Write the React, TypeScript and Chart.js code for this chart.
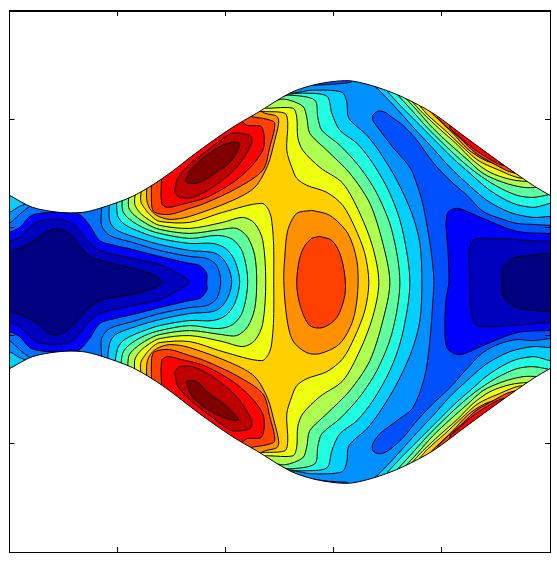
import React, { useEffect, useRef } from "react";
import { Chart, registerables } from "chart.js";

Chart.register(...registerables);

const xTicks = [10, 118, 226, 334, 442, 550];
const yTicks = [11, 119, 227, 335, 443, 551];

const bandColors = [
  "#000080", "#0000bf", "#0000ff", "#0050ff", "#0090ff", "#00cfff", "#20ffdf", "#60ff9f",
  "#afff50", "#efff10", "#ffcf00", "#ff9000", "#ff4000", "#ff0000", "#bf0000", "#800000",
  "#0070ff",
];

const field = [0,0, 600,0, 600,600, 0,600, 0,0];

const low3Left = [0,226, 10,223, 20,214, 32,205, 60,190, 102,190, 102,208, 102,225, 110,235, 133,242, 160,250, 190,256, 207,258, 217,265, 221,281, 217,298, 207,305, 190,307, 160,313, 133,321, 110,328, 102,338, 102,355, 102,373, 60,373, 32,358, 20,349, 10,340, 0,337, 0,226];
const low3Right = [373,115, 378,111, 385,112, 392,117, 403,125, 417,140, 433,162, 450,180, 467,195, 483,211, 500,218, 517,223, 533,224, 550,225, 565,225, 565,338, 550,338, 533,340, 517,339, 500,343, 483,352, 467,368, 450,387, 433,403, 417,420, 403,437, 388,450, 380,453, 373,450, 373,443, 380,433, 397,420, 413,407, 425,375, 430,340, 433,300, 434,280, 432,257, 428,230, 422,200, 413,173, 407,163, 393,147, 380,130, 373,120, 373,115];
const low3CapTop = [313,85, 327,84.5, 340,83.5, 351,82, 354,78, 340,70, 320,75, 313,85];
const low3CapBottom = [313,478, 325,480, 338,481, 348,482, 349,490, 330,495, 313,478];
const low2Left = [0,236, 10,232, 20,227, 32,215, 53,212, 78,213, 90,225, 100,240, 115,245, 133,249, 160,256, 190,263, 200,265, 207,273, 207,282, 207,290, 200,298, 190,300, 160,307, 133,314, 115,318, 100,323, 90,338, 78,350, 53,351, 32,348, 20,336, 10,331, 0,328, 0,236];
const low2Right = [446,225, 448,212, 458,208, 483,218, 517,231, 550,233, 565,233, 565,330, 550,330, 517,332, 483,345, 467,352, 457,354, 447,347, 445,330, 446,300, 449,281, 448,250, 446,225];
const low1Left = [0,244, 10,241, 20,237, 37,222, 57,219, 73,223, 88,240, 100,250, 133,258, 160,264, 185,277, 189,282, 185,286, 160,299, 133,305, 100,313, 88,323, 73,340, 57,344, 37,341, 20,326, 10,322, 0,320, 0,244];
const low1Right = [469,253, 473,240, 497,238, 527,240, 550,241, 565,241, 565,322, 550,322, 510,325, 482,326, 475,323, 471,310, 470,280, 469,253];
const low0Left = [0,253, 10,252, 30,243, 50,230, 62,229, 72,235, 82,248, 92,257, 113,263, 140,270, 155,275, 162,282, 153,288, 127,295, 107,298, 92,305, 80,317, 70,328, 58,334, 50,333, 38,323, 23,315, 10,311, 0,310, 0,253];
const low0Right = [503,267, 513,258, 530,255, 550,253, 565,253, 565,311, 550,311, 517,307, 504,297, 502,280, 503,267];

const cornerTop = [0,214, 10,212, 20,206, 28,202, 10,185, 0,185, 0,214];
const cornerBottom = [0,349, 10,351, 20,357, 28,361, 10,378, 0,378, 0,349];

const high5Center = [110,198, 160,140, 220,100, 288,72, 288,92, 313,90, 342,92, 347,102, 349,118, 367,135, 380,152, 397,180, 412,213, 420,243, 422,282, 420,320, 412,350, 397,383, 380,411, 367,428, 349,445, 347,461, 342,471, 313,473, 288,471, 288,491, 220,463, 160,423, 110,365, 110,343, 116,334, 133,327, 160,319, 190,313, 213,311, 222,306, 229,295, 232,281, 229,268, 222,257, 213,252, 190,250, 160,244, 133,236, 116,229, 110,220, 110,198];
const high6Center = [117,195, 160,140, 220,100, 282,78, 282,93, 303,93, 327,96, 332,113, 340,130, 357,143, 373,163, 390,193, 402,227, 410,282, 402,336, 390,370, 373,400, 357,420, 340,433, 332,450, 327,467, 303,470, 282,470, 282,485, 220,463, 160,423, 117,368, 118,348, 125,339, 142,331, 160,325, 190,320, 213,320, 226,315, 235,303, 240,281, 235,260, 226,248, 213,243, 190,243, 160,238, 142,232, 125,224, 118,215, 117,195];
const high7Center = [123,192, 160,140, 220,100, 275,85, 275,97, 290,95, 315,100, 318,117, 322,130, 340,145, 360,167, 377,193, 392,230, 400,282, 392,333, 377,370, 360,396, 340,418, 322,433, 318,446, 315,463, 290,468, 275,466, 275,478, 220,463, 160,423, 123,371, 123,353, 130,344, 145,335, 160,330, 190,325, 218,328, 233,324, 243,311, 248,281, 243,252, 233,239, 218,235, 190,238, 160,233, 145,228, 130,219, 123,210, 123,192];
const high8Center = [130,188, 160,140, 220,100, 268,90, 268,101, 285,99, 303,106, 307,117, 310,133, 327,150, 350,173, 370,203, 383,243, 390,282, 383,320, 370,360, 350,390, 327,413, 310,430, 307,446, 303,457, 285,464, 268,462, 268,473, 220,463, 160,423, 130,375, 129,356, 135,348, 148,339, 160,334, 190,330, 222,334, 237,335, 248,326, 255,308, 257,281, 255,255, 248,237, 237,228, 222,229, 190,233, 160,229, 148,224, 135,215, 129,207, 130,188];
const high9Center = [137,185, 160,140, 220,100, 260,95, 260,107, 293,108, 297,117, 298,137, 303,150, 320,167, 343,183, 360,213, 373,247, 379,282, 373,316, 360,350, 343,380, 320,396, 303,413, 298,426, 297,446, 293,455, 260,456, 260,468, 220,463, 160,423, 137,378, 135,360, 140,351, 150,343, 160,338, 190,335, 223,341, 243,346, 255,340, 263,323, 266,281, 263,240, 255,223, 243,217, 223,222, 190,228, 160,225, 150,220, 140,212, 135,203, 137,185];
const high10Center = [143,182, 160,140, 220,100, 255,100, 255,110, 285,113, 288,123, 287,150, 292,167, 297,178, 307,185, 327,192, 343,205, 355,227, 365,253, 369,282, 365,310, 355,336, 343,358, 327,371, 307,378, 297,385, 292,396, 287,413, 288,440, 285,450, 255,453, 255,463, 220,463, 160,423, 143,381, 141,363, 145,355, 152,347, 160,342, 190,341, 223,351, 262,360, 270,351, 273,333, 274,313, 274,281, 274,250, 273,230, 270,212, 262,203, 223,212, 190,222, 160,221, 152,216, 145,208, 141,200, 143,182];

const high11Top = [148,175, 147,198, 150,208, 157,215, 170,219, 190,216, 233,200, 255,187, 268,165, 275,140, 279,122, 277,116, 265,113, 255,108, 220,100, 170,140, 148,175];
const high11Bottom = [148,388, 147,365, 150,355, 157,348, 170,344, 190,347, 233,363, 255,376, 268,398, 275,423, 279,441, 277,447, 265,450, 255,455, 220,463, 170,423, 148,388];
const high11Middle = [312,210, 330,215, 348,233, 357,260, 358,290, 353,320, 340,343, 320,353, 307,352, 293,340, 287,317, 284,280, 285,257, 288,230, 297,213, 312,210];
const high12Middle = [320,236, 332,240, 340,253, 345,275, 345,295, 337,317, 323,327, 310,325, 301,307, 297,285, 299,262, 304,247, 312,238, 320,236];
const high12Top = [152,175, 152,205, 155,212, 170,214, 190,208, 205,203, 237,188, 263,170, 270,147, 275,123, 267,119, 250,116, 220,105, 170,150, 152,175];
const high12Bottom = [152,388, 152,358, 155,351, 170,349, 190,355, 205,360, 237,375, 263,393, 270,416, 275,440, 267,444, 250,447, 220,458, 170,413, 152,388];
const high13Top = [162,175, 162,203, 168,207, 182,204, 207,197, 240,177, 263,150, 262,127, 247,125, 240,120, 205,125, 172,155, 162,175];
const high13Bottom = [162,388, 162,360, 168,356, 182,359, 207,366, 240,386, 263,413, 262,436, 247,438, 240,443, 205,438, 172,408, 162,388];
const high14Top = [175,192, 178,178, 190,164, 200,156, 213,146, 225,137, 233,133, 250,135, 252,143, 237,167, 213,187, 193,197, 180,197, 175,192];
const high14Bottom = [175,371, 178,385, 190,399, 200,407, 213,417, 225,426, 233,430, 250,428, 252,420, 237,396, 213,376, 193,366, 180,366, 175,371];
const high15Top = [186,180, 192,168, 207,155, 223,145, 238,142, 239,148, 230,162, 215,173, 200,182, 188,183, 186,180];
const high15Bottom = [187,382, 192,395, 207,408, 227,418, 238,420, 238,417, 225,404, 210,393, 197,381, 188,380, 187,382];

const ur5 = [375,86, 387,98, 400,112, 417,131, 433,148, 450,167, 467,183, 487,200, 510,212, 533,217, 550,216, 565,216, 565,150, 470,80, 375,70, 375,86];
const ur6 = [388,92, 403,108, 420,125, 437,142, 453,158, 470,173, 490,190, 513,203, 533,207, 543,205, 550,203, 565,203, 565,150, 470,80, 388,78, 388,92];
const ur7 = [398,95, 410,108, 427,127, 443,143, 460,159, 477,173, 497,186, 517,195, 533,197, 550,194, 565,190, 565,150, 470,80, 398,80, 398,95];
const ur8 = [404,96, 417,110, 433,128, 450,144, 467,159, 483,173, 503,182, 523,187, 538,187, 550,185, 470,80, 404,85, 404,96];
const ur9 = [411,100, 423,113, 440,129, 457,144, 473,160, 490,172, 510,179, 528,181, 545,178, 470,90, 411,90, 411,100];
const ur10 = [420,106, 428,115, 445,130, 462,146, 478,160, 497,169, 522,178, 535,172, 470,100, 420,96, 420,106];
const ur11 = [428,109, 435,116, 452,132, 468,149, 485,160, 503,166, 515,173, 525,170, 470,110, 428,100, 428,109];
const ur12 = [438,118, 446,126, 460,138, 476,153, 493,163, 512,172, 522,168, 470,120, 438,104, 438,118];
const ur13 = [450,128, 458,135, 473,148, 490,159, 503,165, 512,160, 470,125, 450,118, 450,128];

const br5 = [375,477, 387,465, 400,451, 417,432, 433,415, 450,396, 467,380, 487,363, 510,351, 533,346, 550,347, 565,347, 565,413, 470,483, 375,493, 375,477];
const br6 = [388,471, 403,455, 420,438, 437,421, 453,405, 470,390, 490,373, 513,360, 533,356, 543,358, 550,360, 565,360, 565,413, 470,483, 388,485, 388,471];
const br7 = [398,468, 410,455, 427,436, 443,420, 460,404, 477,390, 497,377, 517,368, 533,366, 550,369, 565,373, 565,413, 470,483, 398,483, 398,468];
const br8 = [404,467, 417,453, 433,435, 450,419, 467,404, 483,390, 503,381, 523,376, 538,376, 550,378, 470,483, 404,478, 404,467];
const br9 = [411,463, 423,450, 440,434, 457,419, 473,403, 490,391, 510,384, 528,382, 545,385, 470,473, 411,473, 411,463];
const br10 = [420,457, 428,448, 445,433, 462,417, 478,403, 497,394, 522,385, 535,391, 470,463, 420,467, 420,457];
const br11 = [428,454, 435,447, 452,431, 468,414, 485,403, 503,397, 515,390, 525,393, 470,453, 428,463, 428,454];
const br12 = [438,445, 446,437, 460,425, 476,410, 493,400, 512,391, 522,395, 470,443, 438,459, 438,445];
const br13 = [450,435, 458,428, 473,415, 490,404, 503,398, 512,403, 470,438, 450,445, 450,435];

const maskTop = [0,190, 10,195, 33,207, 60,212, 83,212, 100,208, 133,196, 163,178, 200,150, 233,127, 257,113, 290,93, 313,85, 337,81, 353,81, 377,87, 403,97, 433,113, 467,138, 500,162, 533,185, 550,195, 565,203, 600,203, 600,-20, -20,-20, -20,190, 0,190];
const maskBottom = [0,373, 10,368, 33,356, 60,351, 83,351, 100,355, 133,367, 163,385, 200,413, 233,436, 257,450, 290,470, 313,478, 337,482, 353,482, 377,476, 403,466, 433,450, 467,425, 500,401, 533,378, 550,368, 565,360, 600,360, 600,600, -20,600, -20,373, 0,373];

const layers: [number, number[]][] = [
  [4, field],
  [16, low3Left], [3, low3Right], [3, low3CapTop], [3, low3CapBottom],
  [2, low2Left], [2, low2Right],
  [1, low1Left], [1, low1Right],
  [0, low0Left], [0, low0Right],
  [5, cornerTop], [5, cornerBottom],
  [5, high5Center], [5, ur5], [5, br5],
  [6, high6Center], [6, ur6], [6, br6],
  [7, high7Center], [7, ur7], [7, br7],
  [8, high8Center], [8, ur8], [8, br8],
  [9, high9Center], [9, ur9], [9, br9],
  [10, high10Center], [10, ur10], [10, br10],
  [11, high11Top], [11, high11Bottom], [11, high11Middle], [11, ur11], [11, br11],
  [12, high12Top], [12, high12Bottom], [12, high12Middle], [12, ur12], [12, br12],
  [13, high13Top], [13, high13Bottom], [13, ur13], [13, br13],
  [14, high14Top], [14, high14Bottom],
  [15, high15Top], [15, high15Bottom],
];

const toPoints = (flat: number[]) => {
  const pts: { x: number; y: number }[] = [];
  for (let i = 0; i < flat.length; i += 2) pts.push({ x: flat[i], y: flat[i + 1] });
  return pts;
};

export default function App() {
  const ref = useRef<HTMLCanvasElement>(null);
  useEffect(() => {
    const datasets: any[] = layers.map(([band, flat], i) => ({
      data: toPoints(flat),
      showLine: true,
      fill: "shape",
      backgroundColor: bandColors[band],
      borderColor: "#000",
      borderWidth: i === 0 ? 0 : 1,
      pointRadius: 0,
      tension: 0.3,
      order: -i,
    }));
    [maskTop, maskBottom].forEach((flat, i) => {
      datasets.push({
        data: toPoints(flat),
        showLine: true,
        fill: "shape",
        backgroundColor: "#fff",
        borderColor: "#000",
        borderWidth: 1,
        pointRadius: 0,
        tension: 0.3,
        order: -1000 - i,
      });
    });
    const axis = (position: string, values: number[], reverse: boolean, width: number) => ({
      type: "linear",
      position,
      min: values[0],
      max: values[values.length - 1],
      reverse,
      afterBuildTicks: (s: any) => {
        s.ticks = values.map((value) => ({ value }));
      },
      afterFit: (s: any) => {
        if (s.isHorizontal()) s.height = 0;
        else s.width = 0;
      },
      ticks: { display: false },
      grid: { drawOnChartArea: false, drawTicks: true, tickLength: -5, color: "#000", lineWidth: 1, z: 1 },
      border: { display: true, color: "#000", width, z: 1 },
    });
    const chart = new Chart(ref.current!, {
      type: "scatter",
      data: { datasets },
      options: {
        animation: false,
        responsive: false,
        events: [],
        layout: { padding: { left: 9.5, right: 7, top: 11, bottom: 9 } },
        elements: { line: { capBezierPoints: false } },
        plugins: { legend: { display: false }, tooltip: { enabled: false } },
        scales: {
          x: axis("bottom", xTicks, false, 1),
          x2: axis("top", xTicks, false, 2),
          y: axis("left", yTicks, true, 1),
          y2: axis("right", yTicks, true, 1),
        },
      } as any,
    });
    return () => chart.destroy();
  }, []);
  return (
    <canvas
      ref={ref}
      width={557}
      height={561}
      style={{ position: "absolute", left: 0, top: 0, display: "block" }}
    />
  );
}
